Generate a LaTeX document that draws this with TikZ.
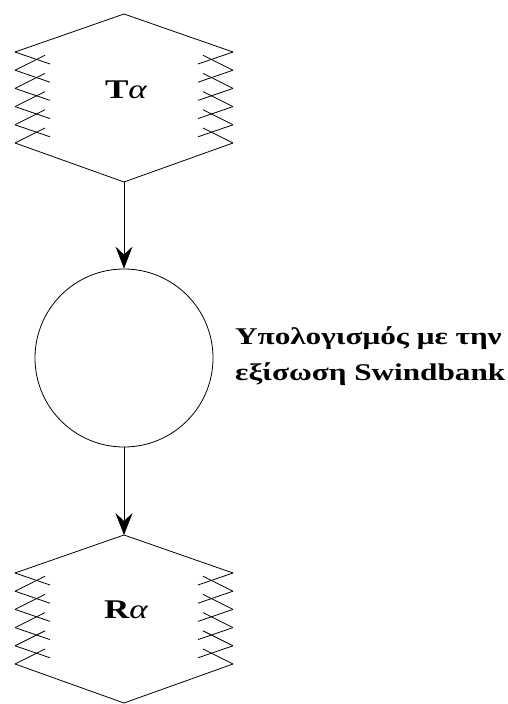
\documentclass[tikz,border=0pt]{standalone}
\usepackage{fontspec}
\setmainfont{Liberation Serif}
\newfontfamily\widefont[FakeStretch=1.3]{Liberation Serif}
\usepackage{tikz}
\usetikzlibrary{arrows.meta, positioning}
\tikzset{
  line/.style={draw=black, line width=0.8pt},
  arrow/.style={draw=black, line width=0.8pt, -{Stealth[length=22pt, width=17pt, inset=8pt]}},
  procnode/.style={draw=black, line width=0.8pt, circle, minimum size=178pt, inner sep=0pt},
  datalabel/.style={font=\widefont\fontsize{27}{30}\selectfont, inner sep=0pt},
  notelabel/.style={font=\widefont\bfseries\fontsize{24}{36}\selectfont, align=left, anchor=west, inner sep=0pt},
  zigbox/.pic={
    % outline
    \draw[line] (-109,-46) -- (0,-84) -- (109,-46);
    \draw[line] (-109,45) -- (0,84) -- (109,45);
    % zigzag sides
    \foreach \k in {0,...,4} {
      \draw[line] (-109,-46+18.2*\k) -- ++(35,12);
      \draw[line] (109,-46+18.2*\k) -- ++(-35,12);
    }
    \foreach \k in {1,...,5} {
      \draw[line] (-109,-46+18.2*\k) -- ++(30,-15);
      \draw[line] (109,-46+18.2*\k) -- ++(-30,-15);
    }
    \coordinate (-n) at (0,-84);
    \coordinate (-s) at (0,84);
  }
}

\begin{document}
\begin{tikzpicture}[x=1pt, y=-1pt]
  \useasboundingbox (0,0) rectangle (508,704);

  % Data stores
  \pic (tstore) at (124,98) {zigbox};
  \node[datalabel] (ta) at (126,90) {{\bfseries T}{\itshape α}};

  \pic (rstore) at (124,619) {zigbox};
  \node[datalabel] (ra) at (126,610) {{\bfseries R}{\itshape α}};

  % Process
  \node[procnode] (calc) at (124,358) {};
  \node[notelabel] (eqlabel) at (235,356) {Υπολογισμός με την\\εξίσωση Swindbank};

  % Flows
  \draw[arrow] (tstore-s) -- (calc);
  \draw[arrow] (calc) -- (rstore-n);
\end{tikzpicture}
\end{document}
